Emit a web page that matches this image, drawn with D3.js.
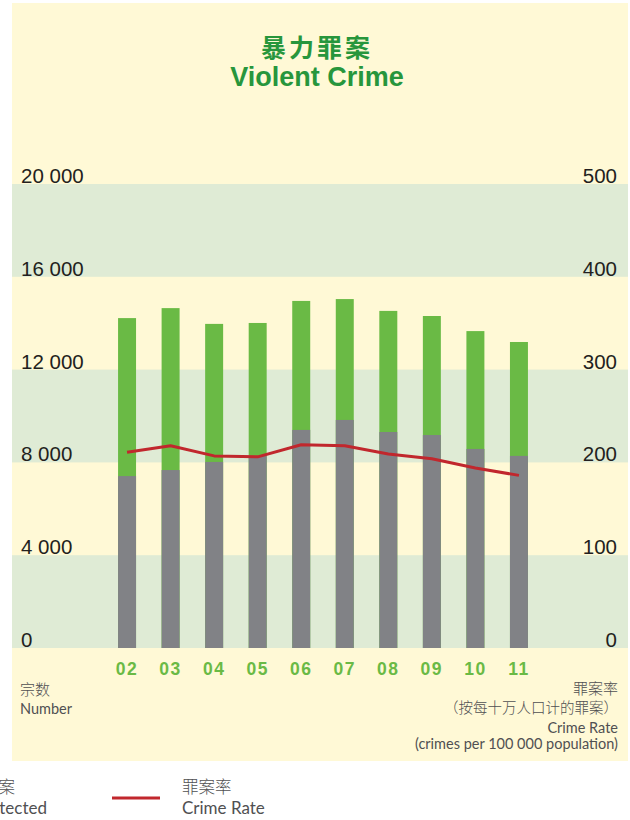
<!DOCTYPE html>
<html>
<head>
<meta charset="utf-8">
<script src="https://d3js.org/d3.v7.min.js"></script>
<style>
  body { margin: 0; background: #ffffff; }
  svg { display: block; }
  .tick-label { font-family: "Liberation Sans", Arial, sans-serif; font-size: 20.5px; fill: #231F20; }
  .note { font-family: Lato, "Noto Sans", sans-serif; font-weight: 400; fill: #505052; }
  .cjk { font-family: "Noto Sans CJK SC", sans-serif; font-weight: 300; fill: #505052; }
</style>
</head>
<body>
<div id="chart"></div>
<script>
// values
var years = ["02", "03", "04", "05", "06", "07", "08", "09", "10", "11"];
var overall = [14220, 14650, 13970, 14010, 14960, 15040, 14530, 14310, 13660, 13190];
var detected = [7410, 7670, 8020, 8280, 9400, 9830, 9310, 9180, 8580, 8280];
var crimeRate = [211, 218, 207, 206, 219, 218, 209, 204, 194, 186];
var leftTicks = [0, 4000, 8000, 12000, 16000, 20000];
var rightTicks = [0, 100, 200, 300, 400, 500];

var width = 630, height = 820;
var panel = {left: 12, right: 628, top: 3, bottom: 761};

var svg = d3.select("#chart")
    .append("svg")
    .attr("width", width)
    .attr("height", height);

// scales
var x = d3.scaleBand()
    .domain(years)
    .range([105, 541])
    .paddingInner(0.587)
    .paddingOuter(0.3);

var y = d3.scaleLinear()
    .domain([0, 20000])
    .range([648, 184]);

var yRate = d3.scaleLinear()
    .domain([0, 500])
    .range([648, 184]);

// cream panel
svg.append("rect")
    .attr("x", panel.left)
    .attr("y", panel.top)
    .attr("width", panel.right - panel.left)
    .attr("height", panel.bottom - panel.top)
    .attr("fill", "#FFF9D6");

// alternate green bands
var bands = leftTicks.slice(0, -1).filter(function(d, i) { return i % 2 == 0; });
svg.append("g")
    .selectAll("rect")
    .data(bands)
    .join("rect")
    .attr("x", panel.left)
    .attr("width", panel.right - panel.left)
    .attr("y", function(d) { return y(d + 4000); })
    .attr("height", function(d) { return y(d) - y(d + 4000); })
    .attr("fill", "#DFEBD5");

// title
svg.append("text")
    .attr("x", 317)
    .attr("y", 57)
    .attr("text-anchor", "middle")
    .style("font-family", "'Noto Sans CJK SC', sans-serif")
    .style("font-weight", "700")
    .style("font-size", "25px")
    .style("letter-spacing", "3px")
    .attr("fill", "#27963C")
    .text("暴力罪案");

svg.append("text")
    .attr("x", 317)
    .attr("y", 86)
    .attr("text-anchor", "middle")
    .style("font-family", "'Liberation Sans', Arial, sans-serif")
    .style("font-weight", "700")
    .style("font-size", "27px")
    .attr("fill", "#27963C")
    .text("Violent Crime");

// tick labels, left and right
var fmt = function(v) { return d3.format(",")(v).replace(/,/g, " "); };

svg.append("g")
    .selectAll("text")
    .data(leftTicks)
    .join("text")
    .attr("class", "tick-label")
    .attr("x", 21)
    .attr("y", function(d) { return y(d) - 1; })
    .text(fmt);

svg.append("g")
    .selectAll("text")
    .data(rightTicks)
    .join("text")
    .attr("class", "tick-label")
    .attr("x", 617)
    .attr("y", function(d) { return yRate(d) - 1; })
    .attr("text-anchor", "end")
    .text(function(d) { return d; });

// bars: overall (green) then detected (grey) over it
svg.append("g")
    .selectAll("rect")
    .data(years)
    .join("rect")
    .attr("x", function(d) { return x(d); })
    .attr("width", x.bandwidth())
    .attr("y", function(d, i) { return y(overall[i]); })
    .attr("height", function(d, i) { return y(0) - y(overall[i]); })
    .attr("fill", "#6ABA45");

svg.append("g")
    .selectAll("rect")
    .data(years)
    .join("rect")
    .attr("x", function(d) { return x(d); })
    .attr("width", x.bandwidth())
    .attr("y", function(d, i) { return y(detected[i]); })
    .attr("height", function(d, i) { return y(0) - y(detected[i]); })
    .attr("fill", "#818286");

// crime rate line
var line = d3.line()
    .x(function(d, i) { return x(years[i]) + x.bandwidth() / 2; })
    .y(function(d) { return yRate(d); });

svg.append("path")
    .datum(crimeRate)
    .attr("d", line)
    .attr("fill", "none")
    .attr("stroke", "#C1272D")
    .attr("stroke-width", 3)
    .attr("stroke-linejoin", "round");

// year labels
svg.append("g")
    .selectAll("text")
    .data(years)
    .join("text")
    .attr("x", function(d) { return x(d) + x.bandwidth() / 2; })
    .attr("y", 675)
    .attr("text-anchor", "middle")
    .style("font-family", "'Liberation Sans', Arial, sans-serif")
    .style("font-weight", "700")
    .style("font-size", "17.5px")
    .style("letter-spacing", "1.5px")
    .attr("fill", "#6ABA45")
    .text(function(d) { return d; });

// axis titles
svg.append("text").attr("class", "cjk").attr("x", 20).attr("y", 695)
    .style("font-size", "15px").text("宗数");
svg.append("text").attr("class", "note").attr("x", 20).attr("y", 714)
    .style("font-size", "14.5px").text("Number");

var rightNotes = [
    {t: "罪案率", y: 694, cls: "cjk", fs: 15},
    {t: "（按每十万人口计的罪案）", y: 713, cls: "cjk", fs: 14.5},
    {t: "Crime Rate", y: 733, cls: "note", fs: 14.5},
    {t: "(crimes per 100 000 population)", y: 749, cls: "note", fs: 14.5}
];
svg.append("g")
    .selectAll("text")
    .data(rightNotes)
    .join("text")
    .attr("class", function(d) { return d.cls; })
    .attr("x", 618)
    .attr("y", function(d) { return d.y; })
    .attr("text-anchor", "end")
    .style("font-size", function(d) { return d.fs + "px"; })
    .text(function(d) { return d.t; });

// legend (the first entries run off the left edge like in the original)
svg.append("text").attr("class", "cjk").attr("x", 15).attr("y", 793)
    .attr("text-anchor", "end").style("font-size", "16.5px").text("已破案");
svg.append("text").attr("class", "note").attr("x", 47).attr("y", 814)
    .attr("text-anchor", "end").style("font-size", "17px").text("Detected");

svg.append("line")
    .attr("x1", 112).attr("x2", 160)
    .attr("y1", 798).attr("y2", 798)
    .attr("stroke", "#C1272D")
    .attr("stroke-width", 3);

svg.append("text").attr("class", "cjk").attr("x", 182).attr("y", 793)
    .style("font-size", "16.5px").text("罪案率");
svg.append("text").attr("class", "note").attr("x", 182).attr("y", 814)
    .style("font-size", "17px").text("Crime Rate");
</script>
</body>
</html>
